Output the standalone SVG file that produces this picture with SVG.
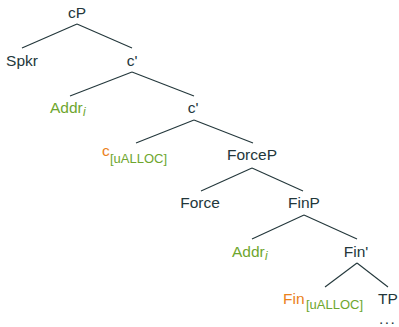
<svg xmlns="http://www.w3.org/2000/svg" width="399" height="327" viewBox="0 0 399 327">
<style>
text{font-family:"Liberation Sans","DejaVu Sans",sans-serif;font-size:15.5px;fill:#23373b}
.m{text-anchor:middle}
.g{fill:#6ea62e}
.o{fill:#eb811b}
.s{font-size:13px}
.i{font-style:italic;font-size:12px}
#edges line{stroke:#23373b;stroke-width:1.1}
</style>
<rect width="399" height="327" fill="#fff"/>
<g id="edges">
<line x1="77" y1="24" x2="22" y2="48"/>
<line x1="77" y1="24" x2="132" y2="48"/>
<line x1="132" y1="72" x2="70" y2="96"/>
<line x1="132" y1="72" x2="194" y2="96"/>
<line x1="194" y1="120" x2="136" y2="143"/>
<line x1="194" y1="120" x2="253" y2="143"/>
<line x1="252" y1="168" x2="201" y2="191"/>
<line x1="252" y1="168" x2="303" y2="191"/>
<line x1="304" y1="215" x2="252" y2="239"/>
<line x1="304" y1="215" x2="357" y2="239"/>
<line x1="357" y1="263" x2="325" y2="287"/>
<line x1="357" y1="263" x2="388" y2="287"/>
</g>
<g id="cP"><text class="m" x="77" y="18">cP</text></g>
<g id="Spkr"><text class="m" x="22" y="66">Spkr</text></g>
<g id="c1"><text class="m" x="132" y="66">c'</text></g>
<g id="Addr1"><text class="g" x="50" y="113">Addr</text><text class="g i" x="83" y="116">i</text></g>
<g id="c2"><text class="m" x="193" y="113">c'</text></g>
<g id="c3"><text class="o" x="102" y="156">c</text><text class="g s" x="110" y="163">[uALLOC]</text></g>
<g id="ForceP"><text class="m" x="252" y="160">ForceP</text></g>
<g id="Force"><text class="m" x="200" y="208">Force</text></g>
<g id="FinP"><text class="m" x="304" y="208">FinP</text></g>
<g id="Addr2"><text class="g" x="232" y="257">Addr</text><text class="g i" x="265" y="260">i</text></g>
<g id="Fin1"><text class="m" x="356" y="257">Fin'</text></g>
<g id="Fin"><text class="o" x="283" y="304">Fin</text><text class="g s" x="306" y="309">[uALLOC]</text></g>
<g id="TP"><text x="378" y="304">TP</text></g>
<g id="dots"><text x="379" y="324" style="letter-spacing:1.5px">...</text></g>
</svg>
